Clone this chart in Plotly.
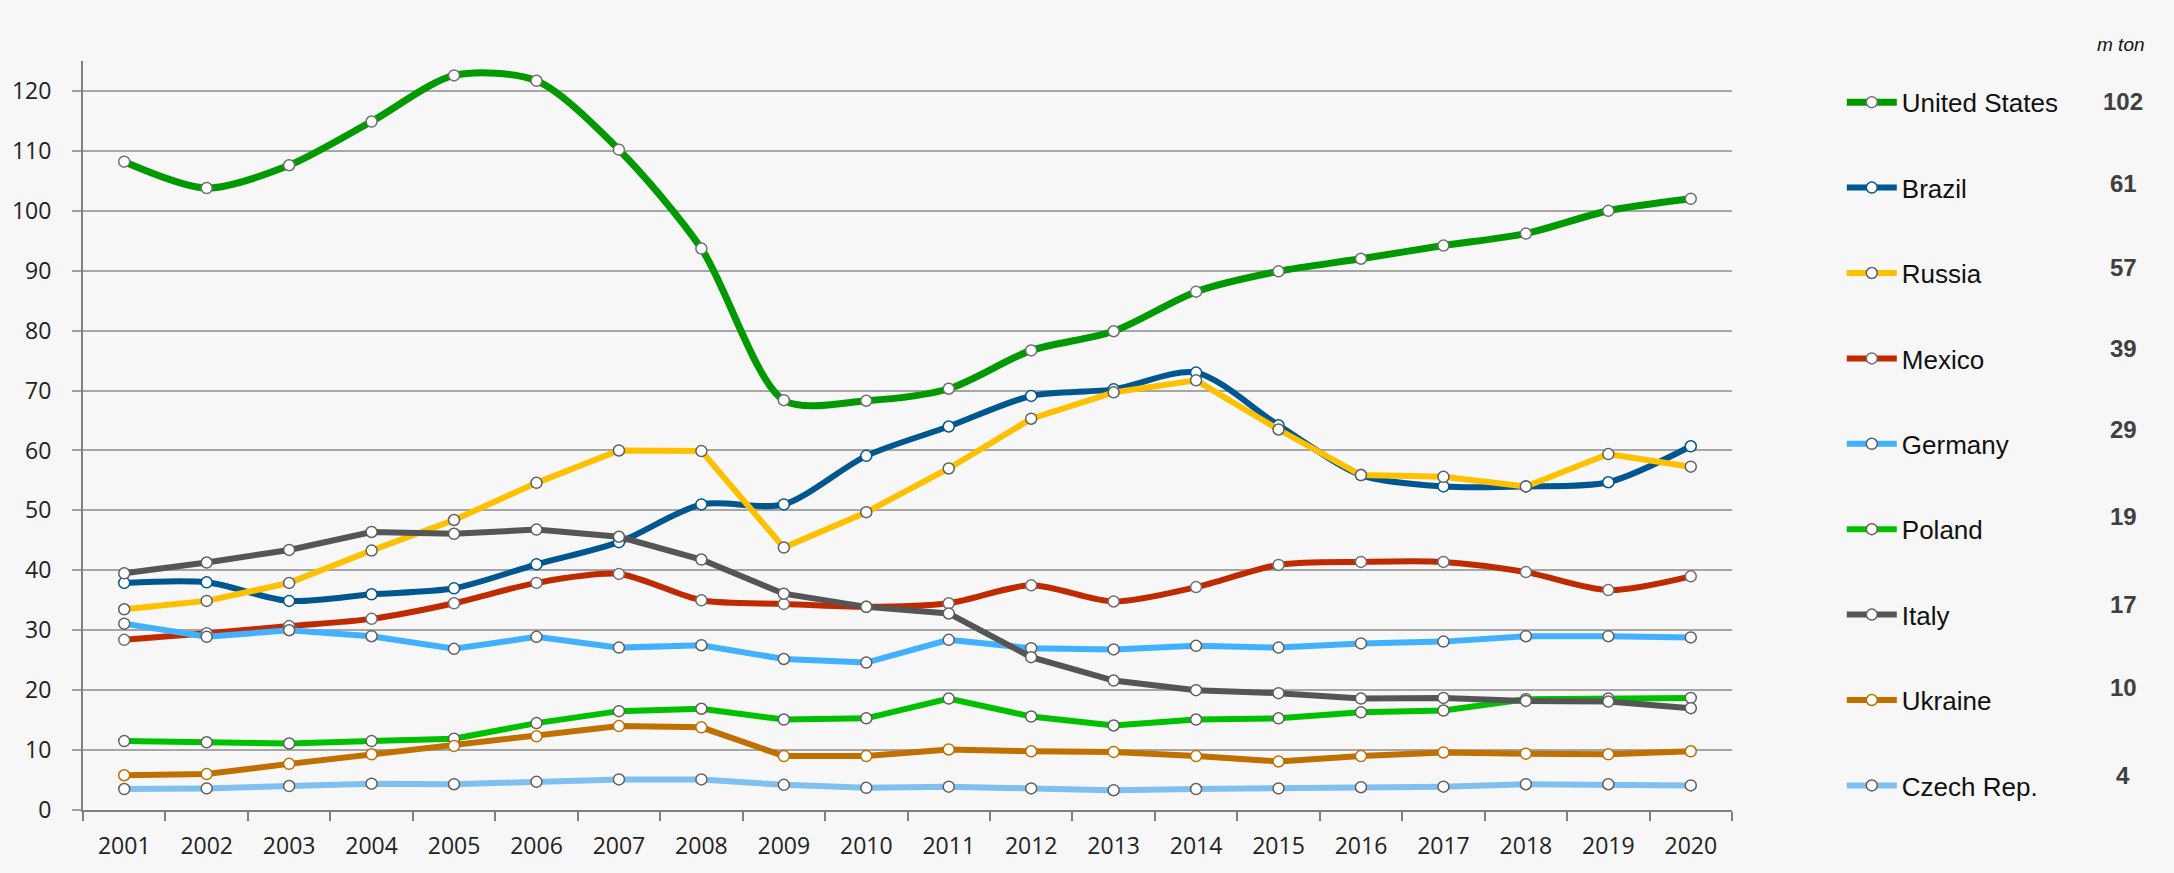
import plotly.graph_objects as go

# Annual output, million tonnes
years = [str(y) for y in range(2001, 2021)]

united_states = [108.2, 103.8, 107.6, 114.9, 122.6, 121.7, 110.2, 93.7, 68.4, 68.3,
                 70.3, 76.7, 79.9, 86.5, 89.9, 92.0, 94.2, 96.2, 100.0, 102.0]
brazil = [37.9, 38.0, 34.9, 36.0, 37.0, 41.0, 44.7, 51.0, 51.0, 59.1,
          64.0, 69.1, 70.2, 73.0, 64.2, 55.9, 54.0, 54.0, 54.7, 60.7]
russia = [33.5, 34.9, 37.9, 43.3, 48.4, 54.6, 60.0, 59.9, 43.8, 49.7,
          57.0, 65.3, 69.7, 71.7, 63.5, 55.9, 55.6, 54.0, 59.4, 57.3]
mexico = [28.4, 29.5, 30.7, 31.9, 34.5, 37.9, 39.4, 35.0, 34.4, 33.9,
          34.5, 37.5, 34.8, 37.2, 40.9, 41.4, 41.4, 39.7, 36.7, 39.0]
germany = [31.1, 28.9, 30.0, 29.0, 26.9, 28.9, 27.1, 27.5, 25.2, 24.6,
           28.4, 27.0, 26.8, 27.4, 27.1, 27.8, 28.1, 29.0, 29.0, 28.8]
poland = [11.5, 11.3, 11.1, 11.5, 11.9, 14.5, 16.5, 16.9, 15.1, 15.3,
          18.6, 15.6, 14.1, 15.1, 15.3, 16.3, 16.6, 18.5, 18.6, 18.7]
italy = [39.5, 41.3, 43.4, 46.4, 46.1, 46.8, 45.6, 41.8, 36.1, 33.9,
         32.8, 25.5, 21.6, 20.0, 19.5, 18.6, 18.7, 18.2, 18.1, 17.0]
ukraine = [5.8, 6.0, 7.7, 9.3, 10.7, 12.3, 14.0, 13.8, 9.0, 9.0,
           10.1, 9.8, 9.7, 9.0, 8.1, 9.0, 9.6, 9.4, 9.3, 9.8]
czech_rep = [3.5, 3.6, 4.0, 4.4, 4.3, 4.7, 5.1, 5.1, 4.2, 3.7,
             3.9, 3.6, 3.3, 3.5, 3.6, 3.8, 3.9, 4.3, 4.3, 4.1]

countries = ["United States", "Brazil", "Russia", "Mexico", "Germany",
             "Poland", "Italy", "Ukraine", "Czech Rep."]
series = [united_states, brazil, russia, mexico, germany,
          poland, italy, ukraine, czech_rep]

# styling per country: line colour, marker outline, smoothed?, line width
styles = {
    "United States": ("#009a00", "#707070", True, 7),
    "Brazil": ("#00578f", "#00578f", True, 6),
    "Russia": ("#ffc000", "#606060", False, 6),
    "Mexico": ("#c02a00", "#707070", True, 6),
    "Germany": ("#41b1ff", "#606060", False, 6),
    "Poland": ("#00c000", "#606060", False, 6),
    "Italy": ("#555555", "#606060", False, 6),
    "Ukraine": ("#c07000", "#c07000", False, 6),
    "Czech Rep.": ("#80c0f0", "#606060", False, 6),
}

# plot area geometry (pixels)
W, H = 2174, 873
L, R, T, B = 80, 442, 61, 54
plot_w = W - L - R
plot_h = H - T - B


def px_to_paper_x(px):
    return (px - L) / plot_w


def px_to_paper_y(py):
    return (H - B - py) / plot_h


fig = go.Figure()
for name, vals in zip(countries, series):
    color, outline, smooth, lw = styles[name]
    fig.add_trace(go.Scatter(
        x=years, y=vals, name=name, mode="lines+markers",
        legendgroup=name,
        line=dict(color=color, width=lw, shape="spline" if smooth else "linear",
                  smoothing=0.8),
        marker=dict(symbol="circle", size=11, color="white",
                    line=dict(color=outline, width=1.5)),
    ))

# latest value column beside the legend
row_y = [102, 185, 270, 352, 434, 522, 611, 695, 784]
annotations = [dict(
    x=px_to_paper_x(2122), y=px_to_paper_y(44), xref="paper", yref="paper",
    text="<i>m ton</i>", showarrow=False, xanchor="center", yanchor="middle",
    font=dict(family="Liberation Sans", size=19, color="#111111"))]
for vals, yy in zip(series, row_y):
    annotations.append(dict(
        x=px_to_paper_x(2124), y=px_to_paper_y(yy), xref="paper", yref="paper",
        text=f"<b>{round(vals[-1])}</b>", showarrow=False,
        xanchor="center", yanchor="middle",
        font=dict(family="Liberation Sans", size=24, color="#404040")))

axis_font = dict(family="Open Sans", size=23, color="#222222")

fig.update_layout(
    width=W, height=H,
    margin=dict(l=L, r=R, t=T, b=B, pad=0),
    paper_bgcolor="#f7f7f7",
    plot_bgcolor="#f7f7f7",
    showlegend=True,
    legend=dict(
        x=px_to_paper_x(1842), y=px_to_paper_y(79), xanchor="left", yanchor="top",
        font=dict(family="Liberation Sans", size=26, color="#111111"),
        bgcolor="rgba(0,0,0,0)", tracegroupgap=48.6, itemwidth=50,
        traceorder="grouped",
    ),
    annotations=annotations,
    xaxis=dict(
        type="category", tickson="boundaries", ticks="outside", ticklen=9,
        tickcolor="#808080", tickwidth=1.5, showline=True, linecolor="#808080",
        linewidth=2, showgrid=False, tickfont=axis_font, ticklabelstandoff=14,
        range=[-0.5, len(years) - 0.5],
    ),
    yaxis=dict(
        range=[0, 125], dtick=10, tick0=0, ticks="outside", ticklen=9,
        tickcolor="#a0a0a0", tickwidth=1.5, showline=True, linecolor="#808080",
        linewidth=2, showgrid=True, gridcolor="#a6a6a6", gridwidth=1.5,
        zeroline=False, tickfont=axis_font, ticklabelstandoff=16,
    ),
)

fig.write_html("out.html")
